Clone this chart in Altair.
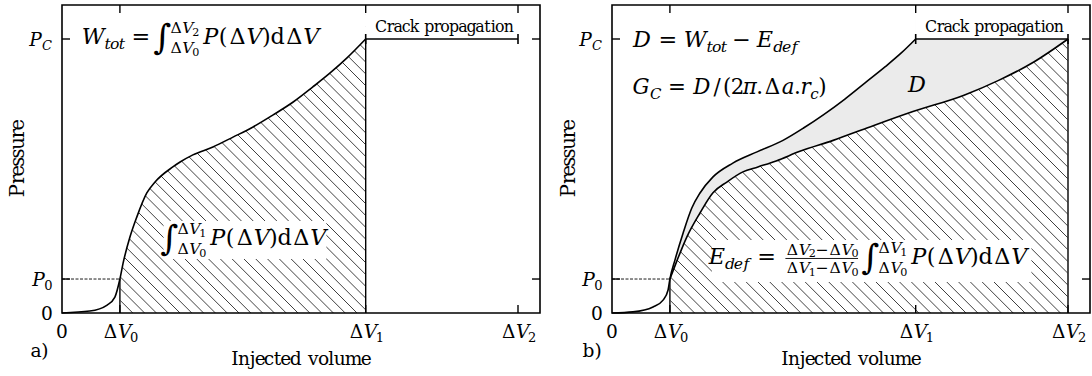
import altair as alt
import numpy as np
import pandas as pd

# ---------------------------------------------------------------- data
DV0, DV1, DV2 = 1.27, 6.66, 10.0      # injected-volume markers
P0, PC = 1.24, 10.0                   # opening pressure, critical pressure

# a) pressure curve up to the critical pressure
a_vol = [0.00, 0.61, 0.99, 1.16, 1.27, 1.34, 1.49, 1.64, 1.86, 2.04, 2.43,
         2.59, 2.87, 3.31, 3.75, 4.19, 4.63, 5.07, 5.50, 5.88, 6.25, 6.66]
a_pre = [0.00, 0.07, 0.29, 0.58, 1.24, 1.82, 2.77, 3.50, 4.38, 4.78, 5.33,
         5.51, 5.77, 6.06, 6.42, 6.79, 7.23, 7.70, 8.25, 8.76, 9.31, 10.00]

# b) pressure curve, and the deformation curve spread over [dV0, dV2]
b_vol = [0.00, 0.46, 0.90, 1.12, 1.23, 1.27, 1.38, 1.56, 1.75, 1.93, 2.21,
         2.65, 3.18, 3.75, 4.20, 4.65, 5.10, 5.55, 6.00, 6.35, 6.66]
b_pre = [0.00, 0.04, 0.22, 0.47, 0.84, 1.24, 1.93, 2.92, 3.83, 4.38, 4.96,
         5.47, 5.88, 6.30, 6.75, 7.25, 7.80, 8.40, 9.00, 9.50, 10.00]
e_vol = [1.27, 1.43, 1.64, 1.93, 2.21, 2.52, 2.87, 3.20, 3.60, 4.12, 4.85,
         5.59, 6.60, 7.72, 8.49, 9.25, 10.00]
e_pre = [1.24, 1.93, 2.77, 3.65, 4.38, 4.78, 5.15, 5.33, 5.55, 5.90, 6.30,
         6.75, 7.35, 7.95, 8.50, 9.16, 10.00]

x_ticks = [DV0, DV1, DV2]
y_ticks = [P0, PC]
x_tick_digits = ["0", "1", "2"]

# ---------------------------------------------------------------- geometry
W, H = 478, 308                       # plot area of each panel (px)
SX, SY = 45.6, 27.4                   # px per unit of volume / pressure
XMAX, YMAX = W / SX, H / SY
FONT = "DejaVu Serif"
FS = 0.93                             # rendered font size per layout em
GRAY = "#ebebeb"

XS = alt.Scale(domain=[0, XMAX], nice=False, zero=False)
YS = alt.Scale(domain=[0, YMAX], nice=False, zero=False)


def ex(f):
    return alt.X(f, type="quantitative", scale=XS, axis=None)


def ey(f):
    return alt.Y(f, type="quantitative", scale=YS, axis=None)


def to_x(px):
    return px / SX


def to_y(py):
    return (H - py) / SY


# ---------------------------------------------------------------- math text
# advance widths (em) of the Computer Modern roman / math italic glyphs
ROMAN = {"(": .389, ")": .389, "d": .556, "Δ": .833, "=": .778, "−": .778,
         "/": .5, ".": .278, "a": .5, "b": .556, "c": .444, "e": .444,
         "g": .5, "i": .278, "j": .306, "k": .528, "l": .278, "m": .833,
         "n": .556, "o": .5, "p": .556, "r": .392, "s": .394, "t": .389,
         "u": .556, "v": .528, "C": .722, "I": .361, "P": .681, " ": .333,
         "∫": .3}
ITAL = {"P": .642, "V": .583, "W": .944, "E": .738, "D": .828, "G": .786,
        "C": .715, "t": .361, "o": .485, "d": .52, "e": .466, "f": .49,
        "a": .529, "r": .451, "c": .433, "π": .57}


def typeset(ops, x0, base, em):
    chars, bars = [], []
    x, saved, hi = x0, x0, x0
    for op in ops:
        kind = op[0]
        if kind == "t":
            _, text, style, sc, d = op
            table = ITAL if style == "i" else ROMAN
            for ch in text:
                w = table.get(ch, 0.5) * em * sc
                chars.append({"px": x + w / 2, "py": base + d * em, "t": ch,
                              "it": style == "i", "fs": em * sc * FS})
                x += w
        elif kind == "g":
            x += op[1] * em
        elif kind == "save":
            saved = hi = x
            continue
        elif kind == "restore":
            x = saved
            continue
        elif kind == "max":
            x = hi
        elif kind == "bar":
            bars.append({"px1": saved, "px2": hi, "py": base + op[1] * em})
        hi = max(hi, x)
    return chars, bars, x


def width_of(ops, em):
    return typeset(ops, 0, 0, em)[2]


def dv(d):
    return [("t", "Δ", "r", 1, 0), ("t", "V", "i", 1, 0), ("t", d, "r", .7, .2)]


def dvs(d, y, s=.7, ds=.5):
    return [("t", "Δ", "r", s, y), ("t", "V", "i", s, y), ("t", d, "r", ds, y + .1)]


def integral(lo, hi):
    return [("t", "∫", "r", 1.55, .2), ("g", .04), ("save",), *dvs(hi, -.45), ("restore",),
            *dvs(lo, .38), ("max",), ("g", .17)]


INTEGRAND = [("t", "P", "i", 1, 0), ("t", "(Δ", "r", 1, 0), ("t", "V", "i", 1, 0),
             ("t", ")dΔ", "r", 1, 0), ("t", "V", "i", 1, 0)]


def word(text, style="r"):
    return [("t", text, style, 1, 0)]


def rotated(text, bx, cy, em):
    widths = [ROMAN.get(c, .5) * em for c in text]
    y = cy + sum(widths) / 2
    out = []
    for c, w in zip(text, widths):
        out.append({"px": bx, "py": y - w / 2, "t": c, "fs": em * FS})
        y -= w
    return out


def frame_texts(tag, tag_x):
    """Tick labels, axis titles and panel tag shared by both panels."""
    chars, bars = [], []

    def put(ops, x0, base, em):
        c, b, _ = typeset(ops, x0, base, em)
        chars.extend(c)
        bars.extend(b)

    em = 20
    y_labels = [([("t", "P", "i", 1, 0), ("t", "C", "i", .7, .2)], 41),
                ([("t", "P", "i", 1, 0), ("t", "0", "r", .7, .2)], 281),
                (word("0"), 315)]
    for ops, base in y_labels:
        put(ops, -10 - width_of(ops, em), base, em)
    x_labels = [(word("0"), 0)] + [(dv(d), v * SX) for d, v in zip(x_tick_digits, x_ticks)]
    for ops, cx in x_labels:
        put(ops, cx - width_of(ops, em) / 2, 333, em)
    put(word(tag), tag_x, 352, em)
    title = word("Injected volume")
    put(title, W / 2 - width_of(title, em) / 2, 360, em)
    put(word("Crack propagation"), 313, 27, 17)
    return chars, bars


# ---------------------------------------------------------------- layers
def text_layers(chars, bars, rot):
    df = pd.DataFrame(chars)
    df["X"] = df["px"].map(to_x)
    df["Y"] = df["py"].map(to_y)
    layers = []
    for italic in (False, True):
        sub = df[df["it"] == italic]
        layers.append(
            alt.Chart(sub).mark_text(font=FONT, baseline="alphabetic", align="center",
                                     fontStyle="italic" if italic else "normal",
                                     color="black")
            .encode(x=ex("X"), y=ey("Y"), text="t:N", size=alt.Size("fs:Q", scale=None)))
    rd = pd.DataFrame(rot)
    rd["X"] = rd["px"].map(to_x)
    rd["Y"] = rd["py"].map(to_y)
    layers.append(
        alt.Chart(rd).mark_text(font=FONT, baseline="alphabetic", align="center",
                                angle=270, color="black")
        .encode(x=ex("X"), y=ey("Y"), text="t:N", size=alt.Size("fs:Q", scale=None)))
    if bars:
        bd = pd.DataFrame(bars)
        bd["X"] = bd["px1"].map(to_x)
        bd["X2"] = bd["px2"].map(to_x)
        bd["Y"] = bd["py"].map(to_y)
        layers.append(alt.Chart(bd).mark_rule(color="black", strokeWidth=0.9)
                      .encode(x=ex("X"), x2="X2", y=ey("Y")))
    return layers


def white_box(chars, pad_l, pad_r, top, bottom, base):
    xs = [c["px"] for c in chars]
    return pd.DataFrame({"X": [to_x(min(xs) - pad_l)], "X2": [to_x(max(xs) + pad_r)],
                         "Y": [to_y(base - top)], "Y2": [to_y(base + bottom)]})


def rect_layer(df, color="white", **kw):
    return alt.Chart(df).mark_rect(color=color, **kw).encode(
        x=ex("X"), x2="X2", y=ey("Y"), y2="Y2")


def full_height(df, **kw):
    return alt.Chart(df).mark_rect(color="white", **kw).encode(
        x=ex("X"), x2="X2", y=alt.value(0), y2=alt.value(H))


def area_above(df, color):
    """Fill the band between a curve and the top of the frame."""
    d = df.assign(TOP=YMAX)
    return alt.Chart(d).mark_area(color=color, interpolate="monotone", orient="vertical").encode(
        x=ex("X"), y=ey("Y"), y2="TOP")


def hatch_layer():
    step = 11.8
    c = np.arange(-H, W + step, step)
    hd = pd.DataFrame({"X": c / SX, "Y": YMAX, "X2": (c + H) / SX, "Y2": 0.0})
    return alt.Chart(hd).mark_rule(clip=True, color="black", strokeWidth=0.75).encode(
        x=ex("X"), y=ey("Y"), x2="X2", y2="Y2")


def canvas(left, right):
    """Invisible rectangle fixing the panel's outer extent (margins for labels)."""
    return alt.Chart(pd.DataFrame({"k": [0]})).mark_rect(opacity=0).encode(
        x=alt.value(-left), x2=alt.value(W + right), y=alt.value(-5), y2=alt.value(H + 63))


def furniture(v_end):
    """P0 guide, volume markers, crack-propagation bar, ticks and frame."""
    L = []
    L.append(alt.Chart(pd.DataFrame({"X": [0], "X2": [DV0], "Y": [P0]}))
             .mark_rule(color="black", strokeWidth=0.9, strokeDash=[3, 1.5])
             .encode(x=ex("X"), x2="X2", y=ey("Y")))
    L.append(alt.Chart(pd.DataFrame({"X": [DV0, v_end], "Y": [0, 0], "Y2": [P0, PC]}))
             .mark_rule(color="black", strokeWidth=1.4)
             .encode(x=ex("X"), y=ey("Y"), y2="Y2"))
    L.append(alt.Chart(pd.DataFrame({"X": [DV1], "X2": [DV2], "Y": [PC]}))
             .mark_rule(color="black", strokeWidth=1.6)
             .encode(x=ex("X"), x2="X2", y=ey("Y")))
    L.append(alt.Chart(pd.DataFrame({"X": [DV1, DV2], "Y": [PC, PC]}))
             .mark_rule(color="black", strokeWidth=1.6, yOffset=-5, y2Offset=5)
             .encode(x=ex("X"), y=ey("Y"), y2="Y"))
    xt = pd.DataFrame({"X": x_ticks})
    yt = pd.DataFrame({"Y": y_ticks})
    tk = dict(color="black", strokeWidth=1.4)
    L.append(alt.Chart(xt).mark_rule(**tk).encode(x=ex("X"), y=alt.value(H), y2=alt.value(H - 8)))
    L.append(alt.Chart(xt).mark_rule(**tk).encode(x=ex("X"), y=alt.value(0), y2=alt.value(8)))
    L.append(alt.Chart(yt).mark_rule(**tk).encode(y=ey("Y"), x=alt.value(0), x2=alt.value(8)))
    L.append(alt.Chart(yt).mark_rule(**tk).encode(y=ey("Y"), x=alt.value(W), x2=alt.value(W - 8)))
    L.append(alt.Chart(pd.DataFrame({"k": [0]}))
             .mark_rect(fillOpacity=0, stroke="black", strokeWidth=1.6)
             .encode(x=alt.value(0), x2=alt.value(W), y=alt.value(0), y2=alt.value(H)))
    return L


def curve_line(df):
    return alt.Chart(df).mark_line(color="black", strokeWidth=1.6, interpolate="monotone").encode(
        x=ex("X"), y=ey("Y"))


# ---------------------------------------------------------------- panel a)
curve_a = pd.DataFrame({"X": a_vol, "Y": a_pre})
ca, ba = frame_texts("a)", -31)
em_f = 24
f1 = [("t", "W", "i", 1, 0), ("t", "tot", "i", .7, .2), ("g", .278),
      ("t", "=", "r", 1, 0), ("g", .278), *integral("0", "2"), *INTEGRAND]
c1, _, _ = typeset(f1, 20, 39, em_f)
f2 = [*integral("0", "1"), *INTEGRAND]
c2, _, _ = typeset(f2, 102, 240, em_f)

layers_a = [
    canvas(62, 0),
    hatch_layer(),
    area_above(curve_a, "white"),
    full_height(pd.DataFrame({"X": [0], "X2": [DV0]}), x2Offset=0.5),
    full_height(pd.DataFrame({"X": [DV1], "X2": [XMAX]}), xOffset=-0.5),
    rect_layer(white_box(c2, 6, 8, 24, 14, 240)),
    curve_line(curve_a),
    *furniture(DV1),
    *text_layers(ca + c1 + c2, ba, rotated("Pressure", -38, 154, 21)),
]
panel_a = alt.layer(*layers_a).properties(width=W, height=H)

# ---------------------------------------------------------------- panel b)
curve_b = pd.DataFrame({"X": b_vol, "Y": b_pre})
curve_e = pd.DataFrame({"X": e_vol, "Y": e_pre})
cb, bb = frame_texts("b)", -29)
f3 = [("t", "D", "i", 1, 0), ("g", .278), ("t", "=", "r", 1, 0), ("g", .278),
      ("t", "W", "i", 1, 0), ("t", "tot", "i", .7, .2), ("g", .222), ("t", "−", "r", 1, 0),
      ("g", .222), ("t", "E", "i", 1, 0), ("t", "def", "i", .7, .2)]
c3, _, _ = typeset(f3, 20, 42, em_f)
f4 = [("t", "G", "i", 1, 0), ("t", "C", "i", .7, .2), ("g", .278), ("t", "=", "r", 1, 0),
      ("g", .278), ("t", "D", "i", 1, 0), ("t", "/(2", "r", 1, 0), ("t", "π", "i", 1, 0),
      ("t", ".Δ", "r", 1, 0), ("t", "a", "i", 1, 0), ("t", ".", "r", 1, 0),
      ("t", "r", "i", 1, 0), ("t", "c", "i", .7, .2), ("t", ")", "r", 1, 0)]
c4, _, _ = typeset(f4, 20, 89, 23)
f5 = word("D", "i")
c5, _, _ = typeset(f5, 305 - width_of(f5, em_f) / 2, 87, em_f)


def frac_row(d, y):
    return [("t", "Δ", "r", .7, y), ("t", "V", "i", .7, y), ("t", d, "r", .5, y + .1),
            ("t", "−", "r", .7, y), ("t", "Δ", "r", .7, y), ("t", "V", "i", .7, y),
            ("t", "0", "r", .5, y + .1)]


f6 = [("t", "E", "i", 1, 0), ("t", "def", "i", .7, .2), ("g", .278), ("t", "=", "r", 1, 0),
      ("g", .398), ("save",), *frac_row("2", -.39), ("restore",), *frac_row("1", .39),
      ("max",), ("bar", -.23), ("g", .29), *integral("0", "1"), *INTEGRAND]
c6, b6, _ = typeset(f6, 96, 259, em_f)

env_top = pd.DataFrame({"X": [DV1], "X2": [DV2], "Y": [PC], "Y2": [YMAX]})
layers_b = [
    canvas(62, 2),
    hatch_layer(),
    area_above(curve_e, GRAY),
    area_above(curve_b, "white"),
    rect_layer(env_top, xOffset=-0.5),
    full_height(pd.DataFrame({"X": [0], "X2": [DV0]}), x2Offset=0.5),
    full_height(pd.DataFrame({"X": [DV2], "X2": [XMAX]}), xOffset=-0.5),
    rect_layer(white_box(c6, 5, 12, 24, 18, 259)),
    curve_line(curve_b),
    curve_line(curve_e),
    *furniture(DV2),
    *text_layers(cb + c3 + c4 + c5 + c6, bb + b6, rotated("Pressure", -37, 154, 21)),
]
panel_b = alt.layer(*layers_b).properties(width=W, height=H)

chart = (
    alt.hconcat(panel_a, panel_b, spacing=72, bounds="flush")
    .properties(padding=0, background="white")
    .configure_view(stroke=None)
)

chart.save("out.html", embed_options={"renderer": "svg", "actions": False})
